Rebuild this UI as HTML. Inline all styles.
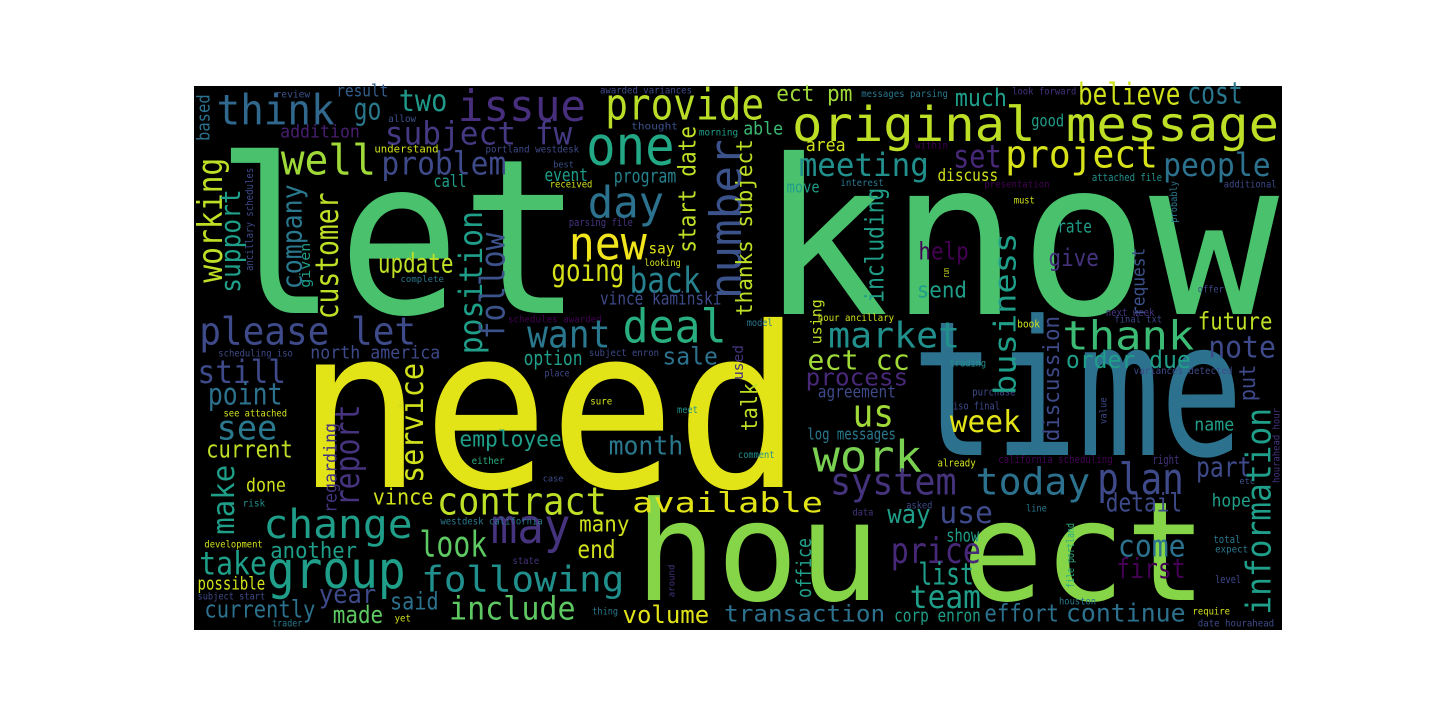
<!DOCTYPE html>
<html>
<head>
<meta charset="utf-8">
<style>
html,body{margin:0;padding:0;background:#fff;}
svg{display:block;}
text{font-family:"DejaVu Sans Mono","Liberation Mono",monospace;}
</style>
</head>
<body>
<svg id="cloud" width="1440" height="720" viewBox="0 0 1440 720" xmlns="http://www.w3.org/2000/svg">
<rect x="194" y="86" width="1088" height="544" fill="#000"/>
<g id="words"></g>
</svg>
<script>
// Quadrant offsets of the reference regions
const quadX = [0, 194, 738, 194, 738];
const quadY = [0, 86, 86, 358, 358];
const SX = 2.882, SY = 3;

// Big words: [text, x1, x2, baseline, size, color]
const bigWords = [
  ["let", 215, 583, 313, 216, "#4ac16d"],
  ["know", 759, 1279, 314, 216, "#4ac16d"],
  ["need", 296, 802, 487, 224, "#e2e418"],
  ["time", 912, 1243, 455, 188, "#2c728e"],
  ["hou ect", 635, 1207, 600, 138, "#86d549"],
  ["original message", 792, 1279, 141, 48, "#bddf26"]
];

// Horizontal words: [text, quadrant, zx1, zx2, zyBaseline, size, color]
const hWords = [
["think",1,65,405,115,42,"#31688e"],["issue",1,760,1130,105,44,"#472f7d"],["provide",1,1185,1643,100,44,"#bade28"],
["two",1,590,730,75,30,"#1f9a8a"],["go",1,460,540,100,30,"#2a788e"],["result",1,410,560,32,17,"#355f8d"],
["review",1,235,335,35,10,"#3b528b"],["addition",1,248,478,155,18,"#481f70"],["subject fw",1,550,1090,175,32,"#443a83"],
["awarded variances",1,1170,1435,22,10,"#3e4a89"],["allow",1,560,640,108,10,"#3b528b"],["thought",1,1260,1395,130,10,"#3b528b"],
["morning",1,1455,1568,148,10,"#1f9e89"],["one",1,1130,1385,235,54,"#22a884"],["well",1,250,525,265,42,"#a0da39"],
["problem",1,540,900,265,32,"#3e4a89"],["understand",1,520,705,200,11,"#d0e11c"],["portland westdesk",1,840,1110,200,10,"#3e4a89"],
["best",1,1035,1095,245,9,"#3b528b"],["event",1,1010,1135,285,18,"#1f9e89"],["received",1,1025,1148,305,10,"#d0e11c"],
["program",1,1210,1390,290,19,"#26828e"],["call",1,690,785,303,17,"#1f9e89"],["day",1,1135,1355,395,44,"#2c728e"],
["parsing file",1,1080,1265,420,11,"#46337e"],["new",1,1080,1305,520,46,"#f1e51d"],["say",1,1310,1385,502,15,"#e2e418"],
["looking",1,1298,1403,540,10,"#d0e11c"],["going",1,1030,1240,585,30,"#d8e219"],["back",1,1255,1460,620,36,"#26828e"],
["update",1,530,748,560,27,"#bddf26"],["complete",1,595,720,588,9,"#2a788e"],["vince kaminski",1,1170,1520,655,18,"#3e4a89"],
["schedules awarded",1,905,1175,710,10,"#440154"],["please let",1,15,640,775,38,"#3e4a89"],["want",1,960,1200,785,38,"#2a788e"],
["deal",1,1235,1535,770,46,"#29af7f"],["north america",1,335,710,818,18,"#3e4a89"],["scheduling iso",1,70,285,812,10,"#3e4a89"],
["option",1,950,1120,837,20,"#1f9e89"],["subject enron",1,1138,1340,810,10,"#3e4a89"],["sale",1,1350,1510,835,24,"#2c728e"],
["ect pm",2,110,330,45,22,"#a0da39"],["messages parsing",2,355,605,33,10,"#2a788e"],["look forward",2,790,975,25,10,"#46337e"],
["much",2,625,775,60,24,"#1f9e89"],["believe",2,980,1275,55,30,"#d0e11c"],["cost",2,1295,1455,52,30,"#2a788e"],
["able",2,15,130,145,18,"#3cbb75"],["good",2,845,940,122,17,"#1f9e89"],["area",2,195,310,195,18,"#d0e11c"],
["within",2,510,605,188,10,"#440154"],["set",2,620,760,245,32,"#482878"],["project",2,770,1210,245,38,"#d8e219"],
["meeting",2,175,550,270,32,"#21908d"],["people",2,1225,1535,270,32,"#2c728e"],["discuss",2,575,750,285,17,"#d0e11c"],
["attached file",2,1020,1222,285,11,"#21908d"],["move",2,140,235,320,16,"#1f9e89"],["interest",2,295,420,300,10,"#2a788e"],
["presentation",2,710,898,305,10,"#440154"],["additional",2,1400,1552,305,10,"#3e4a89"],["must",2,795,855,352,10,"#d0e11c"],
["rate",2,920,1020,440,18,"#1f9e89"],["help",2,520,665,520,24,"#440154"],["give",2,895,1040,540,24,"#46337e"],
["send",2,515,660,635,22,"#1f9e89"],["offer",2,1325,1400,620,10,"#3e4a89"],["next week",2,1060,1200,690,11,"#46337e"],
["final txt",2,1085,1222,710,10,"#3e4a89"],["hour ancillary",2,230,450,705,10,"#d0e11c"],["model",2,25,100,720,10,"#2a788e"],
["book",2,805,870,725,11,"#d0e11c"],["future",2,1325,1540,730,24,"#bddf26"],["market",2,260,640,785,36,"#21908d"],
["thank",2,935,1315,790,40,"#3cbb75"],["note",2,1355,1550,815,30,"#3e4a89"],
["ect cc",4,200,495,35,28,"#a0da39"],["process",4,195,490,82,24,"#482878"],["order due",4,945,1305,30,24,"#1f9e89"],
["trading",4,610,715,25,10,"#21908d"],["variances detected",4,1140,1425,48,10,"#3e4a89"],["agreement",4,230,455,118,17,"#3e4a89"],
["purchase",4,675,800,112,11,"#3e4a89"],["us",4,330,450,205,38,"#a0da39"],["iso final",4,620,755,155,11,"#3e4a89"],
["week",4,610,815,222,30,"#e2e418"],["name",4,1315,1430,218,18,"#1f9e89"],["log messages",4,200,455,245,16,"#2a788e"],
["comment",4,0,105,300,10,"#21908d"],["work",4,215,530,340,44,"#7ad151"],["already",4,575,685,325,11,"#d0e11c"],
["california scheduling",4,750,1080,315,11,"#440154"],["right",4,1195,1272,318,12,"#46337e"],["part",4,1320,1480,355,28,"#3e4a89"],
["etc",4,1445,1490,378,9,"#3b528b"],["system",4,265,630,410,37,"#46337e"],["today",4,685,1015,410,37,"#2c728e"],
["plan",4,1035,1285,408,44,"#3e4a89"],["detail",4,1060,1280,460,26,"#3e4a89"],["hope",4,1365,1478,445,18,"#1f9e89"],
["asked",4,485,560,452,10,"#3e4a89"],["line",4,830,890,460,10,"#2a788e"],["data",4,330,390,472,10,"#46337e"],
["way",4,430,555,495,26,"#1f9e89"],["use",4,580,735,495,30,"#3e4a89"],["show",4,600,695,550,18,"#1f9e89"],
["total",4,1370,1448,555,11,"#2a788e"],["expect",4,1375,1470,583,10,"#2a788e"],["come",4,1095,1290,595,30,"#2c728e"],
["price",4,440,700,615,36,"#482878"],["first",4,1090,1290,660,28,"#440154"],["list",4,520,680,680,30,"#1f9e89"],
["level",4,1375,1450,675,11,"#3e4a89"],["team",4,495,700,750,32,"#1f9e89"],["houston",4,925,1032,740,10,"#2a788e"],
["transaction",4,-40,424,790,23,"#2c728e"],["corp enron",4,450,700,790,18,"#1f9e89"],["effort",4,710,925,790,24,"#2c728e"],
["continue",4,945,1290,790,25,"#2c728e"],["require",4,1310,1418,770,10,"#d0e11c"],["date hourahead",4,1325,1545,805,10,"#3e4a89"],
["available",4,-305,245,462,28,"#e2e418"],
["still",3,10,265,75,32,"#3e4a89"],["point",3,40,255,140,30,"#2c728e"],["see attached",3,85,268,175,10,"#d0e11c"],
["see",3,65,240,245,34,"#2a788e"],["current",3,35,285,298,24,"#bddf26"],["done",3,150,265,400,19,"#d0e11c"],
["risk",3,140,205,445,10,"#21908d"],["employee",3,765,1060,265,22,"#1f9e89"],["month",3,1195,1410,290,26,"#2a788e"],
["either",3,800,895,318,10,"#29af7f"],["case",3,1005,1065,370,9,"#3e4a89"],["vince",3,515,690,440,22,"#d0e11c"],
["contract",3,700,1190,470,38,"#bddf26"],["change",3,200,630,540,40,"#1f9e89"],["may",3,855,1085,555,48,"#46337e"],
["many",3,1110,1255,520,22,"#d0e11c"],["westdesk california",3,710,1005,500,10,"#2a788e"],["look",3,650,845,595,36,"#5ec962"],
["end",3,1105,1215,600,25,"#d0e11c"],["another",3,220,470,600,22,"#1f9e89"],["development",3,30,198,568,10,"#d0e11c"],
["take",3,15,210,650,32,"#1f9e89"],["group",3,210,610,690,52,"#1f9e89"],["following",3,655,1240,700,36,"#21908d"],
["state",3,918,995,618,10,"#46337e"],["possible",3,10,205,695,18,"#d0e11c"],["subject start",3,10,205,725,10,"#3e4a89"],
["year",3,360,525,735,26,"#3e4a89"],["said",3,565,705,755,24,"#2c728e"],["currently",3,30,350,778,24,"#2c728e"],
["made",3,400,545,795,24,"#5ec962"],["include",3,735,1100,785,32,"#5ec962"],["volume",3,1235,1485,795,24,"#e2e418"],
["thing",3,1148,1222,770,10,"#2a788e"],["trader",3,225,312,805,10,"#2a788e"],["yet",3,578,625,790,10,"#d0e11c"],
["place",3,1010,1082,55,10,"#3e4a89"],["sure",3,1142,1205,140,10,"#d0e11c"],["meet",3,1392,1452,165,10,"#21908d"]
];

// Vertical words: [text, quadrant, zxBaseline, zyBottom, zyTop, size, color]
const vWords = [
["based",1,45,165,25,18,"#2c728e"],["start date",1,1445,500,120,24,"#bddf26"],["number",1,1576,640,160,44,"#3b528b"],
["working",1,80,590,215,34,"#bddf26"],["support",1,132,620,310,28,"#1f9e89"],["ancillary schedules",1,170,555,245,11,"#3e4a89"],
["company",1,310,610,295,28,"#2a788e"],["given",1,335,605,470,14,"#1f9e89"],["customer",1,415,700,320,32,"#bddf26"],
["position",1,830,805,375,32,"#1f9e89"],["follow",1,895,760,440,34,"#3b528b"],
["thanks subject",2,40,690,160,22,"#bddf26"],["probably",2,1265,410,285,10,"#2a788e"],["including",2,420,650,305,26,"#1f9e89"],
["run",2,608,575,545,9,"#d0e11c"],["business",2,800,927,440,30,"#1f9e89"],["request",2,1172,690,485,18,"#3b528b"],
["using",2,240,775,640,15,"#bddf26"],["used",2,15,882,777,14,"#46337e"],
["put",4,1490,130,20,22,"#3e4a89"],["talk",4,55,220,75,22,"#bddf26"],["discussion",4,925,250,-126,22,"#3e4a89"],
["value",4,1062,198,118,10,"#3e4a89"],["information",4,1535,770,150,34,"#1f9e89"],["hourahead hour",4,1560,375,150,10,"#46337e"],
["file portland",4,968,690,495,11,"#29af7f"],["office",4,210,720,540,20,"#1f9e89"],["around",3,1385,718,620,9,"#46337e"],
["make",3,115,530,320,30,"#1f9e89"],["report",3,475,445,140,34,"#46337e"],["regarding",3,410,465,195,18,"#46337e"],
["service",3,660,375,15,32,"#d0e11c"]
];

const NS = "http://www.w3.org/2000/svg";
const layer = document.getElementById("words");
function slug(t){return t.replace(/\s+/g,'-');}
function addText(txt, x, y, len, size, color, vertical){
  const el = document.createElementNS(NS, "text");
  
  
  el.setAttribute("x", x.toFixed(1));
  el.setAttribute("y", y.toFixed(1));
  el.setAttribute("font-size", size);
  el.setAttribute("fill", color);
  el.setAttribute("textLength", Math.max(1,len).toFixed(1));
  el.setAttribute("lengthAdjust", "spacingAndGlyphs");
  if (vertical) el.setAttribute("transform", "rotate(-90 " + x.toFixed(1) + " " + y.toFixed(1) + ")");
  el.textContent = txt;
  layer.appendChild(el);
}
bigWords.forEach(w => addText(w[0], w[1], w[3], w[2]-w[1], w[4], w[5], false));
hWords.forEach(w => {
  const x = quadX[w[1]] + w[2]/SX, x2 = quadX[w[1]] + w[3]/SX, y = quadY[w[1]] + w[4]/SY;
  addText(w[0], x, y, x2-x, w[5], w[6], false);
});
vWords.forEach(w => {
  const x = quadX[w[1]] + w[2]/SX, yb = quadY[w[1]] + w[3]/SY, yt = quadY[w[1]] + w[4]/SY;
  addText(w[0], x, yb, yb-yt, w[5], w[6], true);
});
</script>
</body>
</html>
